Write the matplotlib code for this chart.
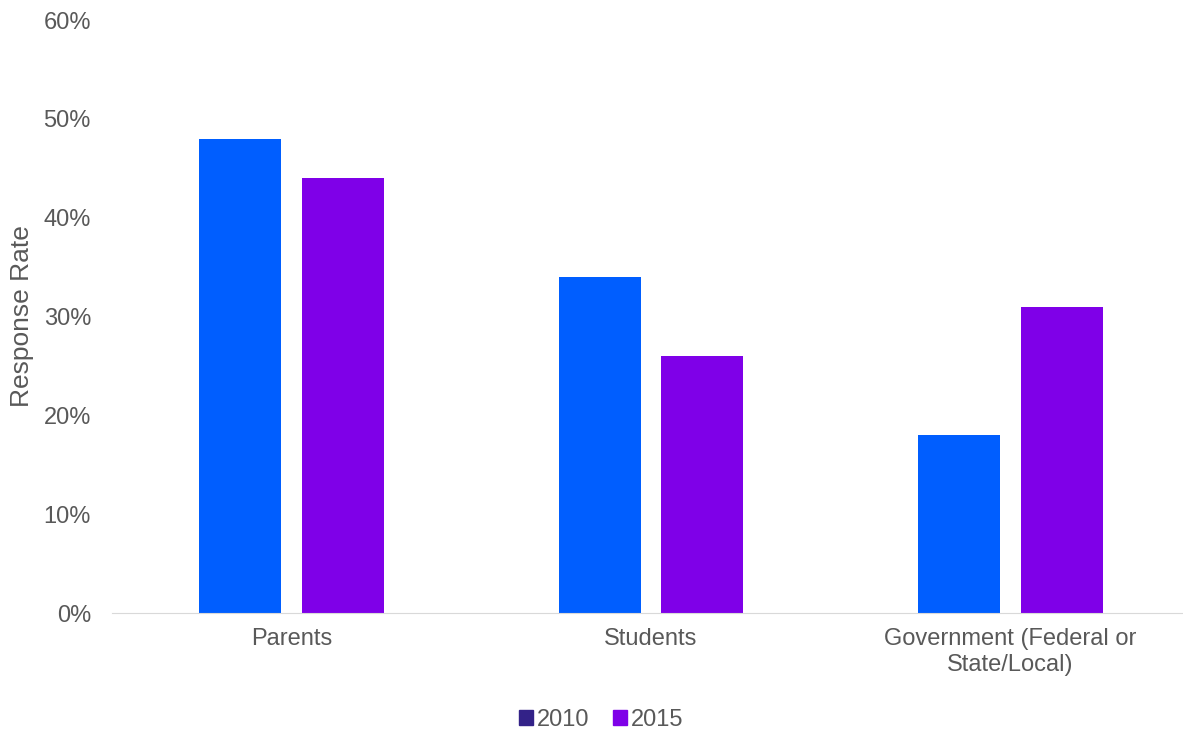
import numpy as np
import matplotlib.pyplot as plt
from matplotlib.patches import Patch

plt.rcParams['font.family'] = ['Liberation Sans', 'DejaVu Sans']

categories = ['Parents', 'Students', 'Government (Federal or\nState/Local)']
rate_2010 = [0.48, 0.34, 0.18]
rate_2015 = [0.44, 0.26, 0.31]
years = ['2010', '2015']

bar_colors = ['#005eff', '#7f00e8']
legend_colors = ['#332288', '#7f00e8']
grey = '#595959'

fig = plt.figure(figsize=(11.83, 7.33), dpi=100)
ax = fig.add_axes([0.0945, 0.1637, 0.9115, 0.809])

x = np.arange(len(categories))
w = 0.228
ax.bar(x - 0.143, rate_2010, w, color=bar_colors[0])
ax.bar(x + 0.143, rate_2015, w, color=bar_colors[1])

ax.set_xlim(-0.5, 2.5)
ax.set_ylim(0, 0.6)
ax.set_yticks(np.arange(0, 0.61, 0.1))
ax.set_yticklabels([f'{int(round(v * 100))}%' for v in np.arange(0, 0.61, 0.1)])
ax.set_xticks(x)
ax.set_xticklabels(categories)
ax.tick_params(axis='both', length=0, labelsize=17, colors=grey)
ax.tick_params(axis='x', pad=11)
ax.tick_params(axis='y', pad=15)

for s in ['top', 'right', 'left']:
    ax.spines[s].set_visible(False)
ax.spines['bottom'].set_color('#d9d9d9')

ax.set_ylabel('Response Rate', fontsize=19, color=grey, labelpad=6.5)

handles = [Patch(color=c, label=y) for c, y in zip(legend_colors, years)]
fig.legend(handles=handles, loc='center', bbox_to_anchor=(0.508, 0.018),
           ncol=2, frameon=False, fontsize=17, labelcolor=grey,
           handlelength=0.6, handleheight=0.6, handletextpad=0.15, columnspacing=1.0)

fig.savefig('out.png', dpi=100)
